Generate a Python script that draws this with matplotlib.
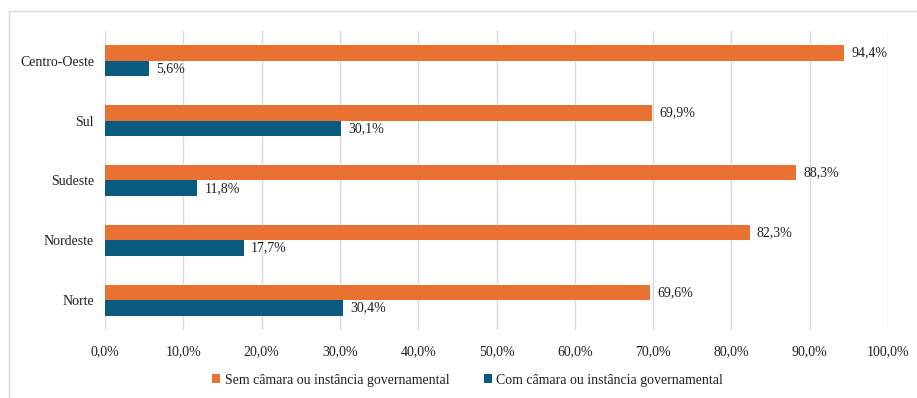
import numpy as np
import matplotlib.pyplot as plt
from matplotlib.patches import Rectangle
from matplotlib.ticker import FuncFormatter

plt.rcParams['font.family'] = ['Liberation Serif', 'DejaVu Serif']

regioes = ["Norte", "Nordeste", "Sudeste", "Sul", "Centro-Oeste"]
sem_camara = [69.6, 82.3, 88.3, 69.9, 94.4]
com_camara = [30.4, 17.7, 11.8, 30.1, 5.6]
rotulo_sem = "Sem câmara ou instância governamental"
rotulo_com = "Com câmara ou instância governamental"

cor_sem = "#E97132"
cor_com = "#0B5A7F"

fig = plt.figure(figsize=(9.17, 3.98), dpi=100)
ax = fig.add_axes([0.1145, 0.171, 0.854, 0.751])

# moldura externa (só topo e esquerda ficam visíveis)
fig.patches.append(Rectangle((9 / 917, -0.05), 1.2, 1 - 11 / 398 + 0.05,
                             transform=fig.transFigure, fill=False,
                             edgecolor="#D9D9D9", linewidth=1.0))

y = np.arange(len(regioes))
h = 0.26
b1 = ax.barh(y + h / 2, sem_camara, height=h, color=cor_sem, label=rotulo_sem, zorder=3)
b2 = ax.barh(y - h / 2, com_camara, height=h, color=cor_com, label=rotulo_com, zorder=3)

def fmt(v):
    return f"{v:.1f}%".replace(".", ",")

for barras, vals in ((b1, sem_camara), (b2, com_camara)):
    for barra, v in zip(barras, vals):
        ax.text(v + 0.9, barra.get_y() + barra.get_height() / 2, fmt(v),
                va="center", ha="left", fontsize=10, color="#1F1F1F")

ax.set_xlim(0, 100)
ax.set_ylim(-0.5, len(regioes) - 0.5)
ax.set_xticks(np.arange(0, 101, 10))
ax.xaxis.set_major_formatter(FuncFormatter(lambda v, p: fmt(v)))
ax.set_yticks(y)
ax.set_yticklabels(regioes)
ax.tick_params(axis="both", length=0, labelsize=10, colors="#1F1F1F")
ax.tick_params(axis="x", pad=11)
ax.tick_params(axis="y", pad=8)
ax.grid(axis="x", color="#D9D9D9", linewidth=1.0, zorder=0)
for s in ax.spines.values():
    s.set_visible(False)

fig.legend(handles=[b1, b2], loc="center", bbox_to_anchor=(0.51, 0.045),
           ncol=2, frameon=False, fontsize=10, handlelength=0.6,
           handleheight=0.6, handletextpad=0.3, columnspacing=2.5,
           labelcolor="#1F1F1F")

fig.savefig("out.png", dpi=100)
